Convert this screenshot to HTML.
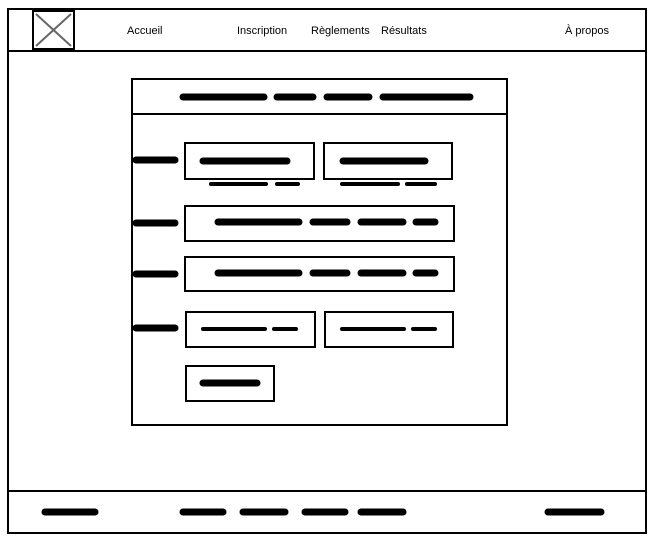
<!DOCTYPE html>
<html><head><meta charset="utf-8"><style>
html,body{margin:0;padding:0;background:#fff;width:653px;height:545px;overflow:hidden}
svg{display:block}
text{font-family:"Liberation Sans",sans-serif;font-size:11px;fill:#000}
.b{fill:none;stroke:#000;stroke-width:2}
.s{stroke:#000;stroke-width:7;stroke-linecap:round}
.t{stroke:#000;stroke-width:4;stroke-linecap:round}
</style></head><body>
<svg width="653" height="545" viewBox="0 0 653 545">
<rect class="b" x="8" y="9" width="638" height="524"/>
<line class="b" x1="8" y1="51" x2="646" y2="51"/>
<line class="b" x1="8" y1="491" x2="646" y2="491"/>
<rect class="b" x="33" y="11" width="41" height="38"/>
<line x1="36" y1="14" x2="71" y2="46" stroke="#666" stroke-width="2"/>
<line x1="71" y1="14" x2="36" y2="46" stroke="#666" stroke-width="2"/>
<text x="127" y="34">Accueil</text>
<text x="237" y="34">Inscription</text>
<text x="311" y="34">Règlements</text>
<text x="381" y="34">Résultats</text>
<text x="565" y="34">À propos</text>

<rect class="b" x="132" y="79" width="375" height="346"/>
<line class="b" x1="132" y1="114" x2="507" y2="114"/>
<g class="s">
<line x1="183" y1="97" x2="264" y2="97"/><line x1="277" y1="97" x2="313" y2="97"/><line x1="327" y1="97" x2="369" y2="97"/><line x1="383" y1="97" x2="470" y2="97"/>
<line x1="136" y1="160" x2="175" y2="160"/><line x1="136" y1="223" x2="175" y2="223"/><line x1="136" y1="274" x2="175" y2="274"/><line x1="136" y1="328" x2="175" y2="328"/>
<line x1="203" y1="161" x2="287" y2="161"/><line x1="343" y1="161" x2="425" y2="161"/>
<line x1="218" y1="222" x2="299" y2="222"/><line x1="313" y1="222" x2="347" y2="222"/><line x1="361" y1="222" x2="403" y2="222"/><line x1="416" y1="222" x2="435" y2="222"/>
<line x1="218" y1="273" x2="299" y2="273"/><line x1="313" y1="273" x2="347" y2="273"/><line x1="361" y1="273" x2="403" y2="273"/><line x1="416" y1="273" x2="435" y2="273"/>
<line x1="203" y1="383" x2="257" y2="383"/>
<line x1="45" y1="512" x2="95" y2="512"/><line x1="183" y1="512" x2="223" y2="512"/><line x1="243" y1="512" x2="285" y2="512"/><line x1="305" y1="512" x2="345" y2="512"/><line x1="361" y1="512" x2="403" y2="512"/><line x1="548" y1="512" x2="601" y2="512"/>
</g>
<g class="t">
<line x1="211" y1="184" x2="266" y2="184"/><line x1="277" y1="184" x2="298" y2="184"/>
<line x1="342" y1="184" x2="398" y2="184"/><line x1="407" y1="184" x2="435" y2="184"/>
<line x1="203" y1="329" x2="265" y2="329"/><line x1="274" y1="329" x2="296" y2="329"/>
<line x1="342" y1="329" x2="404" y2="329"/><line x1="413" y1="329" x2="435" y2="329"/>
</g>
<rect class="b" x="185" y="143" width="129" height="36"/>
<rect class="b" x="324" y="143" width="128" height="36"/>
<rect class="b" x="185" y="206" width="269" height="35"/>
<rect class="b" x="185" y="257" width="269" height="34"/>
<rect class="b" x="186" y="312" width="129" height="35"/>
<rect class="b" x="325" y="312" width="128" height="35"/>
<rect class="b" x="186" y="366" width="88" height="35"/>
</svg>
</body></html>
